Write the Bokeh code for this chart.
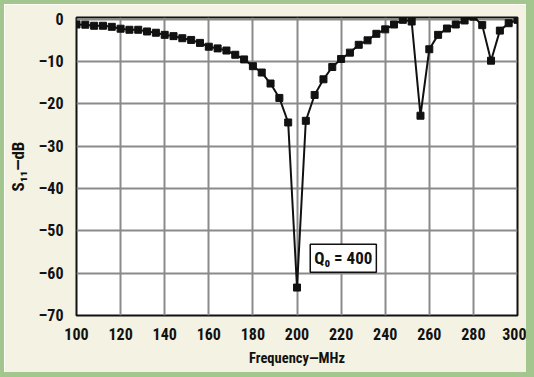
from bokeh.plotting import figure
from bokeh.models import Label, FixedTicker, Range1d
from bokeh.embed import file_html
from bokeh.resources import INLINE

# ---- data ----
freq_mhz = [100, 104, 108, 112, 116, 120, 124, 128, 132, 136, 140, 144, 148, 152,
            156, 160, 164, 168, 172, 176, 180, 184, 188, 192, 196,
            200,
            204, 208, 212, 216, 220, 224, 228,
            232, 236, 240, 244, 248, 252, 256, 260, 264, 268, 272, 276, 280,
            284, 288, 292, 296, 300]
s11_db = [-1.25, -1.3, -1.55, -1.55, -1.8, -2.25, -2.5, -2.5, -2.9, -3.2, -3.7, -4.0, -4.5, -4.9,
          -5.6, -6.5, -6.9, -7.4, -8.4, -9.5, -11.1, -12.6, -15.2, -18.6, -24.4,
          -63.4,
          -24.0, -17.9, -14.2, -11.3, -9.4, -7.9, -6.05,
          -5.0, -3.45, -2.4, -1.25, -0.15, -0.55, -22.8, -7.1, -3.7, -2.2, -1.25, -0.3, 0.6,
          -1.4, -9.8, -2.7, -0.95, -0.15]

x_ticks = [100, 120, 140, 160, 180, 200, 220, 240, 260, 280, 300]
y_ticks = [0, -10, -20, -30, -40, -50, -60, -70]
y_tick_labels = {0: "0", -10: "–10", -20: "–20", -30: "–30", -40: "–40",
                 -50: "–50", -60: "–60", -70: "–70"}

annot_text = "Q₀ = 400"
annot_x = 206.0
annot_y = -56.5

FONT = "Roboto Condensed"
CREAM = "#f4f2e2"
GREEN = "#a3c68e"
INK = "#111111"
Y_MIN, Y_MAX = -70, 0.4

p = figure(width=522, height=368, output_backend="svg", toolbar_location=None,
           x_range=Range1d(100, 300), y_range=Range1d(Y_MIN, Y_MAX),
           min_border_left=64, min_border_right=9, min_border_top=13, min_border_bottom=57)

p.background_fill_color = "white"
p.border_fill_color = CREAM
p.outline_line_color = INK
p.outline_line_width = 2
p.styles = {"margin": "4px 0px 0px 4px", "outline": f"8px solid {GREEN}"}

p.xaxis.ticker = FixedTicker(ticks=x_ticks)
p.yaxis.ticker = FixedTicker(ticks=y_ticks)
p.yaxis.major_label_overrides = y_tick_labels

for ax in (p.xaxis, p.yaxis):
    ax.axis_line_color = None
    ax.major_tick_line_color = None
    ax.minor_tick_line_color = None
    ax.major_label_text_font = FONT
    ax.major_label_text_font_style = "bold"
    ax.major_label_text_font_size = "16px"
    ax.major_label_text_color = INK
    ax.axis_label_text_font = FONT
    ax.axis_label_text_font_style = "bold"
    ax.axis_label_text_color = INK

p.xaxis.axis_label = "Frequency—MHz"
p.yaxis.axis_label = "S₁₁—dB"
p.xaxis.axis_label_text_font_size = "14.5px"
p.yaxis.axis_label_text_font_size = "17px"
p.xaxis.major_label_standoff = 6
p.yaxis.major_label_standoff = 7
p.xaxis.axis_label_standoff = 7
p.yaxis.axis_label_standoff = 8

p.grid.grid_line_color = "#8a8a8a"
p.grid.grid_line_width = 2
p.grid.grid_line_alpha = 1.0

p.line(freq_mhz, s11_db, line_color=INK, line_width=2)
p.scatter(freq_mhz, s11_db, marker="square", size=7, fill_color=INK, line_color=INK)

lab = Label(x=annot_x, y=annot_y, text=annot_text, text_align="left", text_baseline="middle",
            text_font=FONT, text_font_style="bold", text_font_size="17px", text_color=INK,
            background_fill_color="white", border_line_color=INK, border_line_width=1.5,
            padding=4)
p.add_layout(lab)

open("out.html", "w").write(file_html(p, INLINE))
